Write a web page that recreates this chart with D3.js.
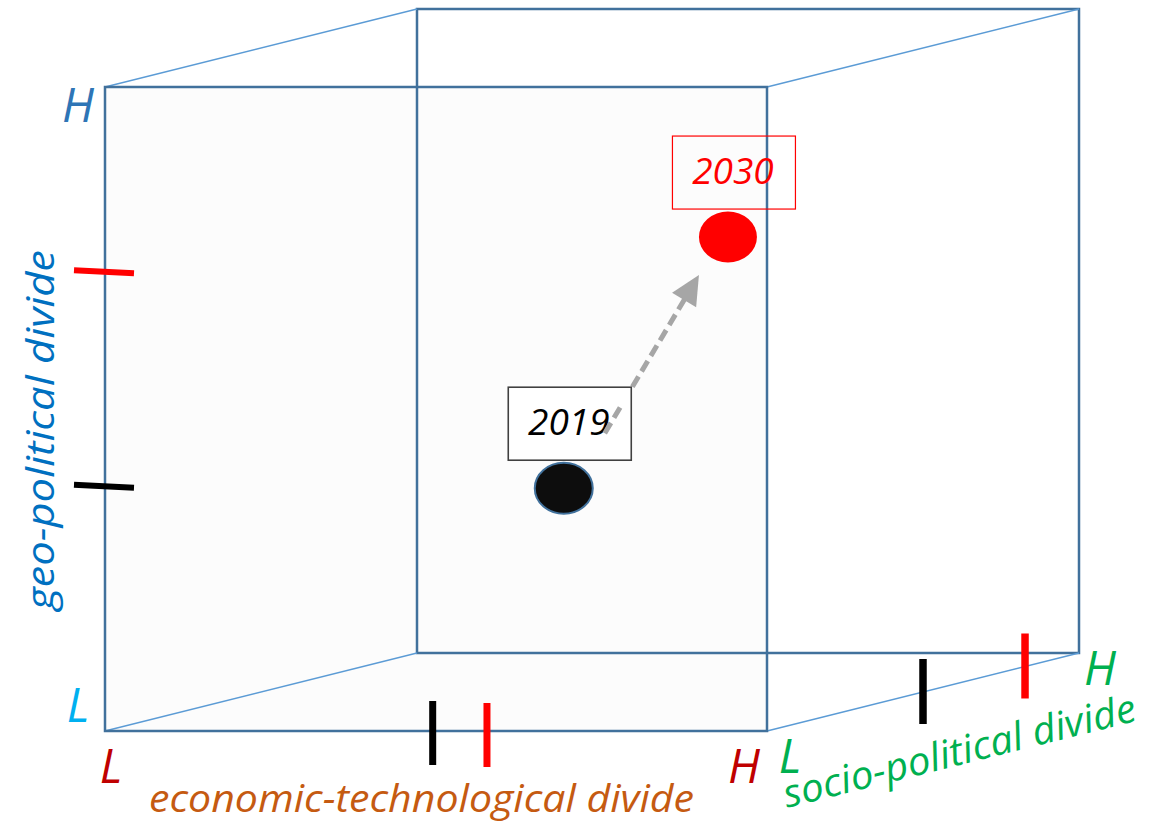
<!DOCTYPE html>
<html>
<head>
<meta charset="utf-8">
<script src="https://cdn.jsdelivr.net/npm/d3@7"></script>
<style>
  body { margin: 0; background: #ffffff; }
  svg { display: block; font-family: "Open Sans", sans-serif; }
</style>
</head>
<body>
<svg></svg>
<script>
// chart data
const axisNames = ["economic-technological divide", "geo-political divide", "socio-political divide"];
const endLabels = ["L", "H"];
const years = ["2019", "2030"];
const yearColors = ["#0d0d0d", "#ff0000"];
const economicTicks = [0.495, 0.577]; // where each year sits on the economic axis
const geoTicks = [0.38, 0.713];       // geo-political axis
const socioTicks = [0.5, 0.827];      // socio-political axis (depth)
const pointX = [0.693, 0.941];        // point position on the front face
const pointY = [0.377, 0.767];

const w = 1157;
const h = 823;

let svg = d3.select("svg").attr("width", w).attr("height", h);

// scales: x = economic, y = geo, depth = socio
let xScale = d3.scaleLinear().domain([0, 1]).range([105, 767]);
let yScale = d3.scaleLinear().domain([0, 1]).range([731, 87]);
let zdx = d3.scaleLinear().domain([0, 1]).range([0, 312]);
let zdy = d3.scaleLinear().domain([0, 1]).range([0, -78]);

let proj = (x, y, z) => [xScale(x) + zdx(z), yScale(y) + zdy(z)];

let faceStroke = "#41719c";
let edgeStroke = "#5b9bd5";

let drawCube = () => {
  let front = [proj(0, 0, 0), proj(0, 1, 0), proj(1, 1, 0), proj(1, 0, 0)];
  let back = [proj(0, 0, 1), proj(0, 1, 1), proj(1, 1, 1), proj(1, 0, 1)];

  // front face fill first so back lines show through
  svg.append("polygon")
    .attr("points", front.map(p => p.join(",")).join(" "))
    .attr("fill", "#fcfcfc");

  svg.append("polygon")//back face
    .attr("points", back.map(p => p.join(",")).join(" "))
    .attr("fill", "none")
    .attr("stroke", faceStroke)
    .attr("stroke-width", 2.5);

  // depth edges
  svg.selectAll(".edge")
    .data(d3.range(4))
    .enter()
    .append("line")
    .attr("class", "edge")
    .attr("x1", i => front[i][0]).attr("y1", i => front[i][1])
    .attr("x2", i => back[i][0]).attr("y2", i => back[i][1])
    .attr("stroke", edgeStroke)
    .attr("stroke-width", 1.3);

  svg.append("polygon")//front face outline
    .attr("points", front.map(p => p.join(",")).join(" "))
    .attr("fill", "none")
    .attr("stroke", faceStroke)
    .attr("stroke-width", 2.5);
}

let drawTicks = () => {
  // geo-political ticks on left edge
  svg.selectAll(".geoTick")
    .data(geoTicks)
    .enter()
    .append("line")
    .attr("x1", xScale(0) - 31).attr("x2", xScale(0) + 29)
    .attr("y1", d => yScale(d) - 1.5).attr("y2", d => yScale(d) + 1.5)
    .attr("stroke", (d, i) => i == 0 ? "#000" : "#ff0000")
    .attr("stroke-width", 6);

  // economic ticks on bottom edge
  svg.selectAll(".ecoTick")
    .data(economicTicks)
    .enter()
    .append("line")
    .attr("x1", d => xScale(d)).attr("x2", d => xScale(d))
    .attr("y1", (d, i) => yScale(0) - 30 + i * 2).attr("y2", (d, i) => yScale(0) + 34 + i * 2)
    .attr("stroke", (d, i) => i == 0 ? "#000" : "#ff0000")
    .attr("stroke-width", 7);

  // socio ticks along the depth edge
  svg.selectAll(".socioTick")
    .data(socioTicks)
    .enter()
    .append("line")
    .attr("x1", d => proj(1, 0, d)[0]).attr("x2", d => proj(1, 0, d)[0])
    .attr("y1", d => proj(1, 0, d)[1] - 33).attr("y2", d => proj(1, 0, d)[1] + 32)
    .attr("stroke", (d, i) => i == 0 ? "#000" : "#ff0000")
    .attr("stroke-width", 7.5);
}

let drawPoints = () => {
  let pts = years.map((y, i) => ({ year: y, x: xScale(pointX[i]), y: yScale(pointY[i]), color: yearColors[i] }));

  // dashed arrow from 2019 label towards 2030
  let sx = pts[0].x + 41, sy = pts[0].y - 55;
  let tx = pts[1].x - 29, ty = pts[1].y + 38;
  let len = Math.hypot(tx - sx, ty - sy);
  let ux = (tx - sx) / len, uy = (ty - sy) / len;
  let headLen = 29, headW = 14;
  let bx = tx - ux * headLen, by = ty - uy * headLen;

  svg.append("line")
    .attr("x1", sx).attr("y1", sy)
    .attr("x2", bx + ux * 2).attr("y2", by + uy * 2)
    .attr("stroke", "#a6a6a6")
    .attr("stroke-width", 5)
    .attr("stroke-dasharray", "12,6");

  svg.append("polygon")
    .attr("points", [[tx, ty], [bx - uy * headW, by + ux * headW], [bx + uy * headW, by - ux * headW]].map(p => p.join(",")).join(" "))
    .attr("fill", "#a6a6a6");

  svg.selectAll(".dot")
    .data(pts)
    .enter()
    .append("ellipse")
    .attr("class", "dot")
    .attr("cx", d => d.x).attr("cy", d => d.y)
    .attr("rx", 29).attr("ry", 25.5)
    .attr("fill", d => d.color)
    .attr("stroke", (d, i) => i == 0 ? "#41719c" : "none")
    .attr("stroke-width", 2);

  // year boxes
  svg.selectAll(".yearBox")
    .data(pts)
    .enter()
    .append("rect")
    .attr("x", d => d.x + 6 - 61.5).attr("y", d => d.y - 101)
    .attr("width", 123).attr("height", 73)
    .attr("fill", (d, i) => i == 0 ? "#ffffff" : "none")
    .attr("stroke", (d, i) => i == 0 ? "#404040" : "#ff0000")
    .attr("stroke-width", (d, i) => i == 0 ? 1.6 : 1.2);

  svg.selectAll(".yearText")
    .data(pts)
    .enter()
    .append("text")
    .attr("x", d => d.x + 5).attr("y", d => d.y - 53)
    .attr("text-anchor", "middle")
    .attr("font-style", "italic")
    .attr("font-size", 37)
    .attr("fill", d => d.color == "#0d0d0d" ? "#000" : d.color)
    .text(d => d.year);

  // arrow tail drawn over the 2019 box like the original
  svg.append("line")
    .attr("x1", sx).attr("y1", sy)
    .attr("x2", sx + ux * 30).attr("y2", sy + uy * 30)
    .attr("stroke", "#a6a6a6")
    .attr("stroke-width", 5)
    .attr("stroke-dasharray", "12,6");
}

let drawLabels = () => {
  let letter = (txt, x, y, color) => svg.append("text")
    .attr("x", x).attr("y", y)
    .attr("text-anchor", "middle")
    .attr("font-style", "italic")
    .attr("font-size", 47)
    .attr("fill", color)
    .text(txt);

  letter(endLabels[1], xScale(0) - 27, yScale(1) + 35, "#2e75b6");
  letter(endLabels[0], xScale(0) - 27, yScale(0) - 9, "#00b0f0");
  letter(endLabels[0], xScale(0) + 6, yScale(0) + 52, "#c00000");
  letter(endLabels[1], xScale(1) - 23, yScale(0) + 52, "#c00000");
  letter(endLabels[0], proj(1, 0, 0)[0] + 23, yScale(0) + 42, "#00b050");
  letter(endLabels[1], proj(1, 0, 1)[0] + 21, proj(1, 0, 1)[1] + 32, "#00b050");

  svg.append("text")//economic axis title
    .attr("x", 149).attr("y", 812)
    .attr("font-style", "italic")
    .attr("font-size", 38)
    .attr("textLength", 545)
    .attr("lengthAdjust", "spacingAndGlyphs")
    .attr("fill", "#c55a11")
    .text(axisNames[0]);

  svg.append("text")//geo axis title
    .attr("transform", "translate(54,610) rotate(-90)")
    .attr("font-style", "italic")
    .attr("font-size", 38)
    .attr("textLength", 360)
    .attr("lengthAdjust", "spacingAndGlyphs")
    .attr("fill", "#0070c0")
    .text(axisNames[1]);

  svg.append("text")//socio axis title
    .attr("transform", "translate(787,808) rotate(-14)")
    .attr("font-style", "italic")
    .attr("font-size", 39)
    .attr("textLength", 362)
    .attr("lengthAdjust", "spacingAndGlyphs")
    .attr("fill", "#00b050")
    .text(axisNames[2]);
}

drawCube()
drawTicks()
drawPoints()
drawLabels()
</script>
</body>
</html>
